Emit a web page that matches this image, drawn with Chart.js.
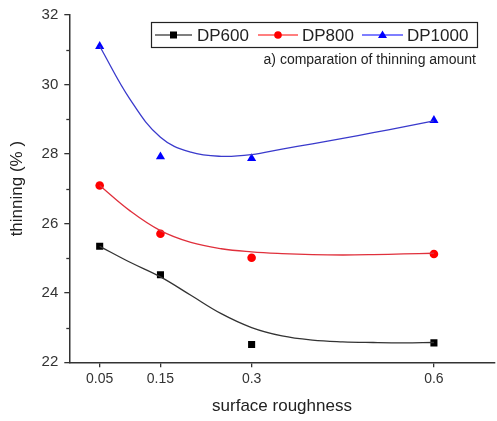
<!DOCTYPE html>
<html>
<head>
<meta charset="utf-8">
<script src="https://cdn.jsdelivr.net/npm/chart.js@4"></script>
<style>
html,body{margin:0;padding:0;background:#fff;overflow:hidden;}
#c{display:block;}
</style>
</head>
<body>
<canvas id="c" width="500" height="421"></canvas>
<script>
// ---- data ----
const xTicks = [0.05, 0.15, 0.3, 0.6];
const dp600  = [25.34, 24.52, 22.51, 22.56];
const dp800  = [27.09, 25.70, 25.01, 25.12];
const dp1000 = [31.10, 27.92, 27.87, 28.97];

// fitted curves (at these x positions)
const fitX     = [0.05, 0.1, 0.15, 0.2, 0.25, 0.3, 0.35, 0.4, 0.45, 0.5, 0.55, 0.6];
const fitY600  = [25.34, 24.88, 24.46, 23.93, 23.40, 23.00, 22.76, 22.64, 22.59, 22.57, 22.56, 22.57];
const fitY800  = [27.09, 26.36, 25.79, 25.45, 25.27, 25.18, 25.13, 25.10, 25.09, 25.10, 25.12, 25.14];
const fitY1000 = [31.10, 29.57, 28.48, 28.05, 27.93, 27.98, 28.14, 28.29, 28.45, 28.61, 28.78, 28.95];

const yMinorTicks = [23, 25, 27, 29, 31];
const seriesNames = ['DP600', 'DP800', 'DP1000'];
const subtitle = 'a) comparation of thinning amount';

const FONT = "'Liberation Sans', Arial, sans-serif";
const pts = (xs, ys) => xs.map((x, i) => ({x: x, y: ys[i]}));

const styles = [
  {pt: '#000000', line: '#333333', shape: 'rect', r: 5},
  {pt: '#ff0000', line: '#e0303c', shape: 'circle', r: 4.3},
  {pt: '#0000ff', line: '#3a3acc', shape: 'triangle', r: 5.3}
];
const rawSets = [dp600, dp800, dp1000];
const fitSets = [fitY600, fitY800, fitY1000];

const datasets = [];
fitSets.forEach((f, i) => {
  datasets.push({
    label: seriesNames[i] + ' fit', data: pts(fitX, f),
    showLine: true, borderColor: styles[i].line, borderWidth: 1.3,
    pointRadius: 0, tension: 0.4, fill: false
  });
});
rawSets.forEach((d, i) => {
  datasets.push({
    label: seriesNames[i], data: pts(xTicks, d),
    showLine: false, pointStyle: styles[i].shape, pointRadius: styles[i].r,
    backgroundColor: styles[i].pt, borderColor: styles[i].pt, borderWidth: 0
  });
});

const extras = {
  id: 'extras',
  afterDraw(chart) {
    const ctx = chart.ctx;
    const ys = chart.scales.y;
    const a = chart.chartArea;
    ctx.save();
    // minor ticks on y
    ctx.strokeStyle = '#333';
    ctx.lineWidth = 1.3;
    yMinorTicks.forEach(v => {
      const y = Math.round(ys.getPixelForValue(v)) + 0.5;
      ctx.beginPath(); ctx.moveTo(a.left - 3, y); ctx.lineTo(a.left, y); ctx.stroke();
    });
    // legend box
    const bx = 151, by = 22, bw = 326, bh = 25;
    ctx.fillStyle = '#fff';
    ctx.fillRect(bx, by, bw, bh);
    ctx.strokeStyle = '#222';
    ctx.lineWidth = 1.2;
    ctx.strokeRect(bx + 0.5, by + 0.5, bw, bh);
    const items = [
      {x0: 155, x1: 192, tx: 197},
      {x0: 258, x1: 298, tx: 302},
      {x0: 362, x1: 403, tx: 407}
    ];
    const cy = by + bh / 2 + 0.5;
    ctx.font = '17px ' + FONT;
    ctx.textBaseline = 'middle';
    ctx.textAlign = 'left';
    items.forEach((it, i) => {
      ctx.strokeStyle = styles[i].pt;
      ctx.lineWidth = 1.2;
      ctx.beginPath(); ctx.moveTo(it.x0, cy); ctx.lineTo(it.x1, cy); ctx.stroke();
      const mx = (it.x0 + it.x1) / 2;
      ctx.fillStyle = styles[i].pt;
      ctx.beginPath();
      if (styles[i].shape === 'rect') {
        ctx.rect(mx - 3.5, cy - 3.5, 7, 7);
      } else if (styles[i].shape === 'circle') {
        ctx.arc(mx, cy, 3.8, 0, Math.PI * 2);
      } else {
        ctx.moveTo(mx, cy - 4.5); ctx.lineTo(mx + 4.5, cy + 3); ctx.lineTo(mx - 4.5, cy + 3); ctx.closePath();
      }
      ctx.fill();
      ctx.fillStyle = '#222';
      ctx.fillText(seriesNames[i], it.tx, cy + 1);
    });
    // subtitle
    ctx.font = '14px ' + FONT;
    ctx.textAlign = 'right';
    ctx.textBaseline = 'alphabetic';
    ctx.fillStyle = '#222';
    ctx.fillText(subtitle, 476, 64);
    ctx.restore();
  }
};

new Chart(document.getElementById('c'), {
  type: 'scatter',
  data: {datasets: datasets},
  options: {
    responsive: false,
    animation: false,
    layout: {padding: {top: 14, right: 1, left: 0, bottom: 0}},
    plugins: {legend: {display: false}, tooltip: {enabled: false}},
    scales: {
      x: {
        type: 'linear', min: 0, max: 0.7,
        afterFit(s) { s.height = 58.7; },
        afterBuildTicks(s) { s.ticks = xTicks.map(v => ({value: v})); },
        grid: {drawOnChartArea: false, drawTicks: true, tickLength: 5, color: '#333', lineWidth: 1.3},
        border: {display: true, color: '#333', width: 1.5},
        ticks: {
          padding: 3, color: '#333', font: {family: FONT, size: 14},
          maxRotation: 0, autoSkip: false,
          callback: v => String(v)
        },
        title: {display: true, text: 'surface roughness', color: '#222',
          font: {family: FONT, size: 17}, padding: {top: 0, bottom: 4}}
      },
      y: {
        min: 22, max: 32,
        afterFit(s) { s.width = 69.3; },
        grid: {drawOnChartArea: false, drawTicks: true, tickLength: 5, color: '#333', lineWidth: 1.3},
        border: {display: true, color: '#333', width: 1.5},
        ticks: {stepSize: 2, padding: 6, color: '#333', font: {family: FONT, size: 15}},
        title: {display: true, text: 'thinning (% )', color: '#222',
          font: {family: FONT, size: 17}, padding: {top: 7, bottom: 0}}
      }
    }
  },
  plugins: [extras]
});
</script>
</body>
</html>
